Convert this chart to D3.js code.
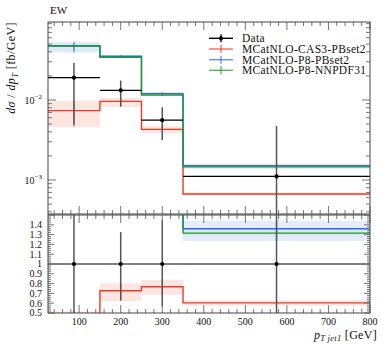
<!DOCTYPE html>
<html>
<head>
<meta charset="utf-8">
<script src="https://cdn.jsdelivr.net/npm/d3@7"></script>
<style>
  body { margin: 0; background: white; }
  text { font-family: 'Liberation Serif', 'DejaVu Serif', serif; fill: #111; }
</style>
</head>
<body>
<svg id="chart" width="383" height="345"></svg>
<script>
// bin edges in GeV
const edges = [25, 150, 250, 350, 800];

const dataY  = [0.0190, 0.0132, 0.0056, 0.00111];
const dataLo = [0.0049, 0.0083, 0.00315, 0];
const dataHi = [0.029, 0.0175, 0.0081, 0.00473];

const cas3   = [0.00736, 0.0096, 0.0043, 0.00067];
const cas3Lo = [0.0046, 0.0082, 0.00385, 0.00064];
const cas3Hi = [0.0098, 0.0106, 0.0047, 0.0007];

const p8pb   = [0.0476, 0.0352, 0.0120, 0.00151];
const p8pbLo = [0.039, 0.0337, 0.0113, 0.00137];
const p8pbHi = [0.0535, 0.0364, 0.0126, 0.0016];

const nnpdf   = [0.0473, 0.0342, 0.01155, 0.00146];
const nnpdfLo = [0.0413, 0.0335, 0.0113, 0.00142];
const nnpdfHi = [0.0512, 0.035, 0.0118, 0.0015];

const xTickLabels = [100, 200, 300, 400, 500, 600, 700, 800];
const ratioTickLabels = [0.5, 0.6, 0.7, 0.8, 0.9, 1, 1.1, 1.2, 1.3, 1.4];

const series = [
  {name: 'MCatNLO-CAS3-PBset2', v: cas3, lo: cas3Lo, hi: cas3Hi, color: '#ee3b22', band: 'rgba(238,59,34,0.13)'},
  {name: 'MCatNLO-P8-PBset2', v: p8pb, lo: p8pbLo, hi: p8pbHi, color: '#3366ff', band: 'rgba(51,102,255,0.12)'},
  {name: 'MCatNLO-P8-NNPDF31', v: nnpdf, lo: nnpdfLo, hi: nnpdfHi, color: '#1f9a2e', band: 'rgba(31,154,46,0.05)'},
];

let svg = d3.select('#chart');
let L = 48, R = 370;
let mainTop = 22, mainBot = 214, ratTop = 215, ratBot = 313;

let sx = d3.scaleLinear().domain([25, 800]).range([L, R]);
let sy = d3.scaleLog().domain([3.76e-4, 0.0944]).range([mainBot, mainTop]);
let sr = d3.scaleLinear().domain([0.5, 1.5]).range([ratBot, ratTop]);

let defs = svg.append('defs');
defs.append('clipPath').attr('id', 'clipMain')
  .append('rect').attr('x', L).attr('y', mainTop).attr('width', R - L).attr('height', mainBot - mainTop);
defs.append('clipPath').attr('id', 'clipRat')
  .append('rect').attr('x', L).attr('y', ratTop).attr('width', R - L).attr('height', ratBot - ratTop);

let centers = edges.slice(0, -1).map((e, i) => (e + edges[i + 1]) / 2);
let ymin = sy.domain()[0] * 0.5;
let clampY = v => sy(Math.max(v, ymin));

function stepPts(vals) {
  let pts = vals.map((v, i) => [edges[i], v]);
  pts.push([edges[edges.length - 1], vals[vals.length - 1]]);
  return pts;
}

function drawPanel(g, yf, norm) {
  let line = d3.line().x(p => sx(p[0])).y(p => yf(p[1])).curve(d3.curveStepAfter);
  let area = d3.area().x(p => sx(p[0])).y0(p => yf(p[1])).y1(p => yf(p[2])).curve(d3.curveStepAfter);

  for (let s of series) {
    let lo = stepPts(s.lo.map((v, i) => v / norm[i]));
    let hi = stepPts(s.hi.map((v, i) => v / norm[i]));
    g.append('path')
      .attr('d', area(lo.map((p, i) => [p[0], p[1], hi[i][1]])))
      .attr('fill', s.band);
  }
  for (let s of series) {
    g.append('path')
      .attr('d', line(stepPts(s.v.map((v, i) => v / norm[i]))))
      .attr('fill', 'none').attr('stroke', s.color).attr('stroke-width', 1.4);
    g.selectAll(null).data(centers).enter().append('line')
      .attr('x1', d => sx(d)).attr('x2', d => sx(d))
      .attr('y1', (d, i) => yf(s.lo[i] / norm[i]))
      .attr('y2', (d, i) => yf(s.hi[i] / norm[i]))
      .attr('stroke', s.color).attr('stroke-opacity', 0.6).attr('stroke-width', 1.3);
  }
}

// main panel
let gm = svg.append('g').attr('clip-path', 'url(#clipMain)');
drawPanel(gm, clampY, [1, 1, 1, 1]);

gm.selectAll('.dv').data(centers).enter().append('line')
  .attr('x1', d => sx(d)).attr('x2', d => sx(d))
  .attr('y1', (d, i) => clampY(dataLo[i])).attr('y2', (d, i) => clampY(dataHi[i]))
  .attr('stroke', '#555').attr('stroke-width', 1.5);
gm.selectAll('.dh').data(dataY).enter().append('line')
  .attr('x1', (d, i) => sx(edges[i])).attr('x2', (d, i) => sx(edges[i + 1]))
  .attr('y1', d => sy(d)).attr('y2', d => sy(d))
  .attr('stroke', '#000').attr('stroke-width', 1.2);
gm.selectAll('.dp').data(dataY).enter().append('circle')
  .attr('cx', (d, i) => sx(centers[i])).attr('cy', d => sy(d)).attr('r', 2.1).attr('fill', '#000');

// ratio panel
let gr = svg.append('g').attr('clip-path', 'url(#clipRat)');
drawPanel(gr, sr, dataY);

gr.selectAll('.dv').data(centers).enter().append('line')
  .attr('x1', d => sx(d)).attr('x2', d => sx(d))
  .attr('y1', (d, i) => sr(dataLo[i] / dataY[i])).attr('y2', (d, i) => sr(dataHi[i] / dataY[i]))
  .attr('stroke', '#555').attr('stroke-width', 1.5);
gr.append('line').attr('x1', L).attr('x2', R).attr('y1', sr(1)).attr('y2', sr(1))
  .attr('stroke', '#000').attr('stroke-width', 1.2);
gr.selectAll('.dp').data(centers).enter().append('circle')
  .attr('cx', d => sx(d)).attr('cy', sr(1)).attr('r', 2.1).attr('fill', '#000');

// frames and ticks
let ax = svg.append('g').attr('stroke', '#777').attr('stroke-width', 1);
let xMinor = d3.range(40, 801, 20);

function xTicks(yEdge, dir) {
  for (let t of xMinor) {
    let len = t % 100 === 0 ? 8 : 4;
    ax.append('line').attr('x1', sx(t)).attr('x2', sx(t))
      .attr('y1', yEdge).attr('y2', yEdge + dir * len);
  }
}
xTicks(mainTop, 1); xTicks(mainBot, -1);
xTicks(ratTop, 1); xTicks(ratBot, -1);

for (let t of sy.ticks()) {
  let major = Math.abs(Math.log10(t) - Math.round(Math.log10(t))) < 1e-6;
  let len = major ? 8 : 4;
  ax.append('line').attr('x1', L).attr('x2', L + len).attr('y1', sy(t)).attr('y2', sy(t));
  ax.append('line').attr('x1', R).attr('x2', R - len).attr('y1', sy(t)).attr('y2', sy(t));
}
for (let t of d3.range(0.5, 1.501, 0.02)) {
  let major = Math.abs(t * 10 - Math.round(t * 10)) < 1e-6;
  let len = major ? 6 : 3;
  ax.append('line').attr('x1', L).attr('x2', L + len).attr('y1', sr(t)).attr('y2', sr(t));
  ax.append('line').attr('x1', R).attr('x2', R - len).attr('y1', sr(t)).attr('y2', sr(t));
}

svg.append('rect').attr('x', L).attr('y', mainTop).attr('width', R - L).attr('height', mainBot - mainTop)
  .attr('fill', 'none').attr('stroke', '#444');
svg.append('rect').attr('x', L).attr('y', ratTop).attr('width', R - L).attr('height', ratBot - ratTop)
  .attr('fill', 'none').attr('stroke', '#444');

// tick labels
svg.selectAll('.xl').data(xTickLabels).enter().append('text')
  .attr('x', d => sx(d)).attr('y', 324.5).attr('text-anchor', 'middle')
  .attr('font-size', 10).text(d => d);

svg.selectAll('.rl').data(ratioTickLabels).enter().append('text')
  .attr('x', 42).attr('y', d => sr(d) + 3.3).attr('text-anchor', 'end')
  .attr('font-size', 10).text(d => d);

for (let e of [-2, -3]) {
  let t = svg.append('text').attr('x', 42).attr('y', sy(Math.pow(10, e)) + 3.5)
    .attr('text-anchor', 'end').attr('font-size', 10);
  t.append('tspan').text('10');
  t.append('tspan').attr('dy', -4.5).attr('font-size', 7).text('\u2212' + (-e));
}

// titles
svg.append('text').attr('x', 50).attr('y', 14).attr('font-size', 11).text('EW');

let yl = svg.append('text')
  .attr('transform', 'translate(15,22) rotate(-90)')
  .attr('text-anchor', 'end').attr('font-size', 12).attr('letter-spacing', 0.4);
yl.append('tspan').attr('font-style', 'italic').text('d\u03c3');
yl.append('tspan').text(' / ');
yl.append('tspan').attr('font-style', 'italic').text('dp');
yl.append('tspan').attr('font-style', 'italic').attr('font-size', 8.5).attr('dy', 2.5).text('T');
yl.append('tspan').attr('dy', -2.5).text(' [fb/GeV]');

let xl = svg.append('text').attr('x', 314).attr('y', 338.5).attr('font-size', 12).attr('letter-spacing', 0.3);
xl.append('tspan').attr('font-style', 'italic').text('p');
xl.append('tspan').attr('font-style', 'italic').attr('font-size', 8.5).attr('dy', 2.5).text('T jet1');
xl.append('tspan').attr('dy', -2.5).text(' [GeV]');

// legend
let leg = svg.append('g');
let legY = [38.3, 49, 59.7, 70.3];
let entries = [{name: 'Data', color: '#000'}].concat(series);
entries.forEach((s, i) => {
  let y = legY[i];
  let op = i === 0 ? 1 : 0.75;
  leg.append('line').attr('x1', 209).attr('x2', 233).attr('y1', y).attr('y2', y)
    .attr('stroke', s.color).attr('stroke-opacity', op).attr('stroke-width', 1.4);
  leg.append('line').attr('x1', 221).attr('x2', 221).attr('y1', y - 4).attr('y2', y + 4)
    .attr('stroke', s.color).attr('stroke-opacity', op).attr('stroke-width', 1.3);
  if (i === 0) leg.append('circle').attr('cx', 221).attr('cy', y).attr('r', 2.1).attr('fill', '#000');
  leg.append('text').attr('x', 242).attr('y', y + 3.8).attr('font-size', 11.5)
    .attr('letter-spacing', 0.3).text(s.name);
});
</script>
</body>
</html>
